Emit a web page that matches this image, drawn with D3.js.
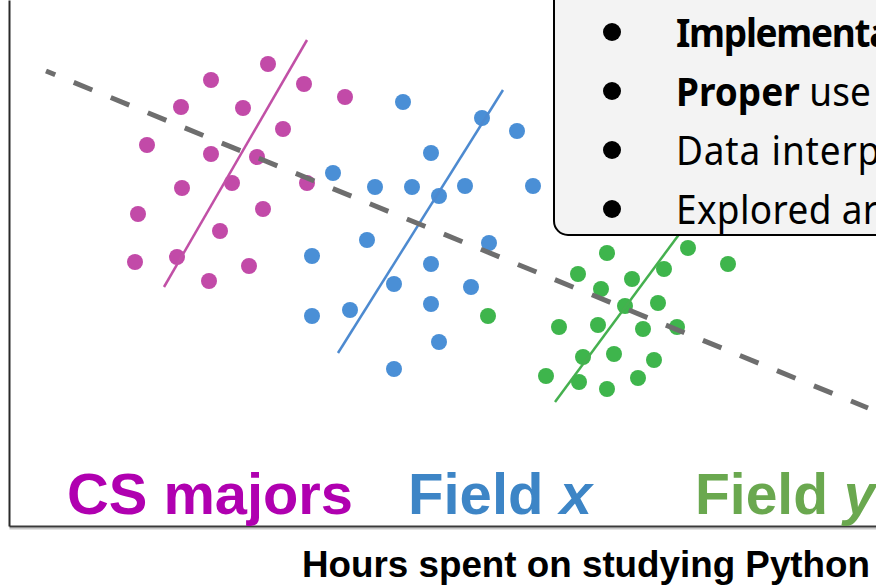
<!DOCTYPE html>
<html>
<head>
<meta charset="utf-8">
<script src="https://cdn.jsdelivr.net/npm/d3@7"></script>
<style>
  html, body { margin: 0; padding: 0; background: #fff; overflow: hidden; }
  svg { display: block; }
</style>
</head>
<body>
<div id="chart"></div>
<script>
// ---- Data (x = hours studying Python, y = outcome) ----
const csX = [26.8, 21.1, 30.4, 34.5, 18.1, 24.3, 28.3, 14.7, 21.1, 25.7, 30.7, 23.2, 18.2, 13.8, 26.3, 22.0, 13.5, 17.7, 24.9, 20.9];
const csY = [46.2, 44.6, 44.2, 42.9, 41.9, 41.8, 39.7, 38.1, 37.2, 36.9, 34.3, 34.3, 33.8, 31.2, 31.7, 29.5, 26.4, 26.9, 26.0, 24.5];

const fxX = [40.3, 48.2, 51.7, 43.1, 33.3, 37.5, 41.2, 43.9, 46.5, 53.3, 36.7, 48.9, 31.2, 43.1, 39.4, 47.1, 31.2, 35.0, 43.1, 43.9, 39.4];
const fxY = [42.4, 40.8, 39.5, 37.3, 35.3, 33.9, 33.9, 33.0, 34.0, 34.0, 28.6, 28.3, 27.0, 26.2, 24.2, 23.9, 21.0, 21.6, 22.2, 18.4, 15.7];

const fyX = [60.7, 68.8, 72.8, 57.8, 66.4, 63.2, 60.1, 62.5, 65.8, 55.9, 59.8, 64.3, 67.7, 58.3, 61.4, 65.4, 54.6, 57.9, 60.7, 63.8, 48.8];
const fyY = [27.3, 27.8, 26.2, 25.2, 25.7, 24.7, 23.7, 22.0, 22.3, 19.9, 20.1, 19.7, 19.9, 16.9, 17.2, 16.6, 15.0, 14.4, 13.7, 14.8, 21.0];

// within-group trend lines (endpoints) and overall trend
const csLine = [[30.7, 48.6], [16.4, 23.9]];
const fxLine = [[50.3, 43.6], [33.8, 17.3]];
const fyLine = [[68.6, 30.1], [55.5, 12.4]];
const overallLine = [[4.6, 45.5], [86.8, 11.8]];

const groupLabels = ["CS majors", "Field ", "Field "];
const groupVars = ["", "x", "y"];
const xTitle = "Hours spent on studying Python";

const boxBold = ["Implementation", "Proper", "", ""];
const boxRest = ["", " use of statistics", "Data interpretation", "Explored areas"];

// ---- Setup ----
const W = 876, H = 588;
const svg = d3.select("#chart").append("svg").attr("width", W).attr("height", H);

const x = d3.scaleLinear().domain([0, 87.6]).range([0, 876]);
const y = d3.scaleLinear().domain([0, 52.6]).range([526, 0]);

// axes (no ticks, only the domain lines)
const xAxisScale = d3.scaleLinear().domain([0.9, 87.6]).range([x(0.9), x(87.6)]);
const yAxisScale = d3.scaleLinear().domain([0, 52.6]).range([y(0), y(52.6)]);

// soft shadow under axis lines
svg.append("g").attr("transform", `translate(0,${y(0) + 2})`)
  .call(d3.axisBottom(xAxisScale).tickValues([]).tickSizeOuter(0))
  .select(".domain").attr("stroke", "#c8c8c8").attr("stroke-width", 2);
svg.append("g").attr("transform", `translate(0,${y(0)})`)
  .call(d3.axisBottom(xAxisScale).tickValues([]).tickSizeOuter(0))
  .select(".domain").attr("stroke", "#3a3a3a").attr("stroke-width", 2);
svg.append("g").attr("transform", `translate(${x(0.9)},0)`)
  .call(d3.axisLeft(yAxisScale).tickValues([]).tickSizeOuter(0))
  .select(".domain").attr("stroke", "#2a2a2a").attr("stroke-width", 2);

// points
const groups = [
  { xs: csX, ys: csY, color: "#c24aa8", line: csLine, lineColor: "#c150a6" },
  { xs: fxX, ys: fxY, color: "#4a8fd6", line: fxLine, lineColor: "#4d8ad0" },
  { xs: fyX, ys: fyY, color: "#3eb54c", line: fyLine, lineColor: "#45b04f" }
];

groups.forEach(g => {
  svg.append("g").selectAll("circle")
    .data(g.xs.map((v, i) => [v, g.ys[i]]))
    .join("circle")
    .attr("cx", d => x(d[0]))
    .attr("cy", d => y(d[1]))
    .attr("r", 8)
    .attr("fill", g.color);
});

const lineGen = d3.line().x(d => x(d[0])).y(d => y(d[1]));
groups.forEach(g => {
  svg.append("path").datum(g.line)
    .attr("d", lineGen)
    .attr("fill", "none")
    .attr("stroke", g.lineColor)
    .attr("stroke-width", 2.5);
});

// overall (misleading) trend
svg.append("path").datum(overallLine)
  .attr("d", lineGen)
  .attr("fill", "none")
  .attr("stroke", "#6e6e6e")
  .attr("stroke-width", 5)
  .attr("stroke-dasharray", "20,20")
  .attr("stroke-dashoffset", 10);

// ---- callout box ----
svg.append("rect")
  .attr("x", 554).attr("y", -40)
  .attr("width", 400).attr("height", 275)
  .attr("rx", 14).attr("ry", 14)
  .attr("fill", "#f3f3f3")
  .attr("stroke", "#000").attr("stroke-width", 2);

const boxFont = "'Noto Sans', 'Open Sans', sans-serif";
const boxFontSize = 40;
// measure for horizontal condensation
const probe = svg.append("text").attr("font-family", boxFont).attr("font-size", boxFontSize).text("Data interp");
const natural = probe.node().getComputedTextLength();
probe.remove();
const sx = 196 / natural;

const lineYs = [32, 91, 150, 209];
const lineSpacing = [-1.4, 0, 0.9, 0.4];
const boxG = svg.append("g");
lineYs.forEach((cy, i) => {
  boxG.append("circle").attr("cx", 612).attr("cy", cy).attr("r", 9).attr("fill", "#000");
  const t = boxG.append("text")
    .attr("transform", `translate(676,${cy + 15}) scale(${sx},1)`)
    .attr("font-family", boxFont)
    .attr("font-size", boxFontSize)
    .attr("letter-spacing", lineSpacing[i])
    .attr("fill", "#000");
  if (boxBold[i]) t.append("tspan").attr("font-weight", "bold").text(boxBold[i]);
  if (boxRest[i]) t.append("tspan").text(boxRest[i]);
});

// ---- group labels ----
const labelFont = "'Liberation Sans', Arial, sans-serif";
const labelColors = ["#b000b0", "#3d85c6", "#6aa84f"];
const labelX = [67, 408, 695];
const labelW = [286, 184, null];

groupLabels.forEach((lab, i) => {
  const t = svg.append("text")
    .attr("x", labelX[i]).attr("y", 514)
    .attr("font-family", labelFont)
    .attr("font-size", 57)
    .attr("font-weight", "bold")
    .attr("fill", labelColors[i]);
  t.append("tspan").text(lab);
  if (groupVars[i]) t.append("tspan").attr("font-style", "italic").text(groupVars[i]);
  if (labelW[i]) t.attr("textLength", labelW[i]).attr("lengthAdjust", "spacingAndGlyphs");
});

// x axis title
svg.append("text")
  .attr("x", 302).attr("y", 577)
  .attr("font-family", labelFont)
  .attr("font-size", 36)
  .attr("font-weight", "bold")
  .attr("fill", "#000")
  .attr("textLength", 568)
  .attr("lengthAdjust", "spacingAndGlyphs")
  .text(xTitle);
</script>
</body>
</html>
